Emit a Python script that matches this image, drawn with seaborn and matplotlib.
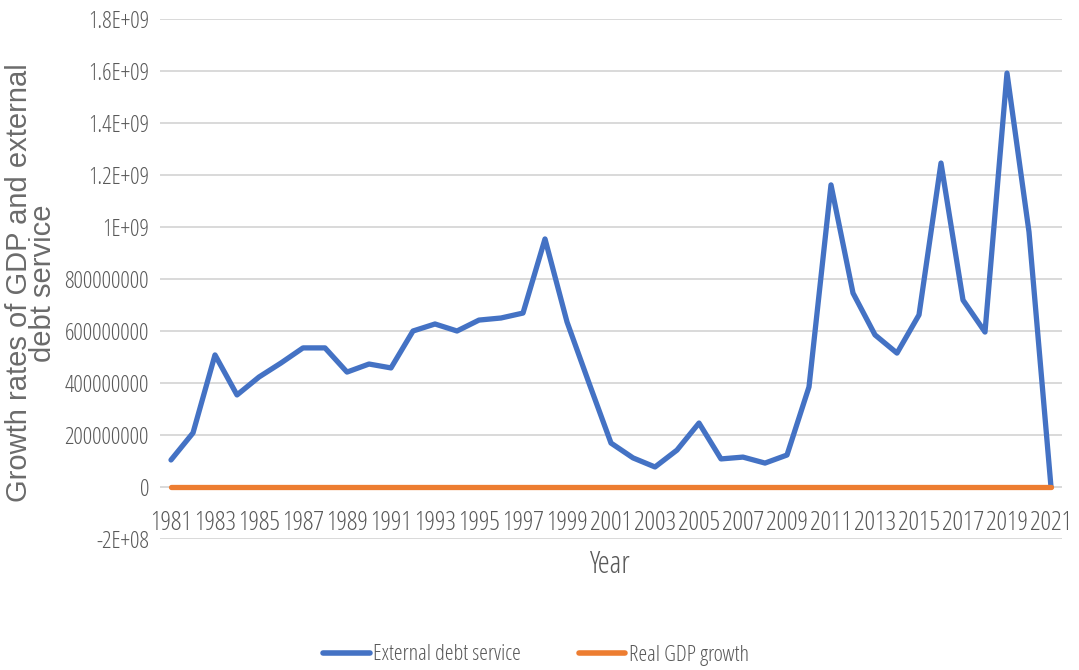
import matplotlib
matplotlib.use("Agg")
import matplotlib.pyplot as plt
import seaborn as sns
import pandas as pd
from matplotlib.lines import Line2D

years = list(range(1981, 2022))
external_debt_service = [
    104e6, 208e6, 508e6, 354e6, 423e6, 477e6, 535e6, 535e6, 442e6, 473e6,
    458e6, 600e6, 627e6, 600e6, 642e6, 650e6, 669e6, 954e6, 635e6, 400e6,
    169e6, 112e6, 77e6, 142e6, 246e6, 108e6, 115e6, 92e6, 123e6, 385e6,
    1162e6, 746e6, 585e6, 515e6, 662e6, 1246e6, 719e6, 596e6, 1592e6, 981e6,
    0.0,
]
real_gdp_growth = [0.0] * len(years)

series_names = ["External debt service", "Real GDP growth"]
y_ticks = [-2e8, 0, 2e8, 4e8, 6e8, 8e8, 1e9, 1.2e9, 1.4e9, 1.6e9, 1.8e9]
y_tick_labels = ["-2E+08", "0", "200000000", "400000000", "600000000",
                 "800000000", "1E+09", "1.2E+09", "1.4E+09", "1.6E+09", "1.8E+09"]
x_ticks = years[::2]

colors = ["#4472C4", "#ED7D31"]
text_color = "#595959"

df = pd.DataFrame({
    "Year": years * 2,
    "Value": external_debt_service + real_gdp_growth,
    "Series": [series_names[0]] * len(years) + [series_names[1]] * len(years),
})

sns.set_theme(style="white")
plt.rcParams["font.family"] = ["Liberation Sans", "DejaVu Sans"]
narrow = dict(family=["Open Sans", "DejaVu Sans"], stretch="condensed", weight="medium")

fig = plt.figure(figsize=(10.79, 6.70), dpi=100)
ax = fig.add_axes([160 / 1079, 1 - 539 / 670, (1062 - 160) / 1079, (539 - 19) / 670])

sns.lineplot(data=df, x="Year", y="Value", hue="Series", hue_order=series_names,
             palette=colors, linewidth=3.8, ax=ax, legend=False,
             solid_capstyle="round", solid_joinstyle="round")

ax.set_xlim(1980.5, 2021.5)
ax.set_ylim(-2e8, 1.8e9)
ax.set_yticks(y_ticks)
ax.set_yticklabels(y_tick_labels, fontsize=17, color=text_color, **narrow)
ax.set_xticks(x_ticks)
ax.set_xticklabels([str(y) for y in x_ticks], fontsize=19,
                   color=text_color, va="bottom", **narrow)
ax.tick_params(axis="x", length=0, pad=-2)
ax.tick_params(axis="y", length=0, pad=8)
ax.grid(axis="y", color="#D9D9D9", linewidth=1.4)
ax.set_axisbelow(True)
for s in ax.spines.values():
    s.set_visible(False)
ax.set_xlabel("")
ax.set_ylabel("")

fig.text(31 / 1079, 1 - 283 / 670, "Growth rates of GDP and external\ndebt service",
         rotation=90, ha="center", va="center", multialignment="center",
         fontsize=21, color="#6b6b6b", linespacing=0.86)
fig.text(610 / 1079, 1 - 565 / 670, "Year", ha="center", va="center",
         fontsize=22, color=text_color, **narrow)

handles = [Line2D([0], [0], color=c, linewidth=4, solid_capstyle="round") for c in colors]
leg = fig.legend(handles, series_names, loc="center", bbox_to_anchor=(536 / 1079, 1 - 655 / 670),
                 ncol=2, frameon=False, handlelength=2.1, handletextpad=0.15,
                 columnspacing=2.6,
                 prop={"family": ["Open Sans", "DejaVu Sans"], "stretch": "condensed",
                       "weight": "medium", "size": 16})
for t in leg.get_texts():
    t.set_color(text_color)

fig.savefig("out.png", dpi=100)
